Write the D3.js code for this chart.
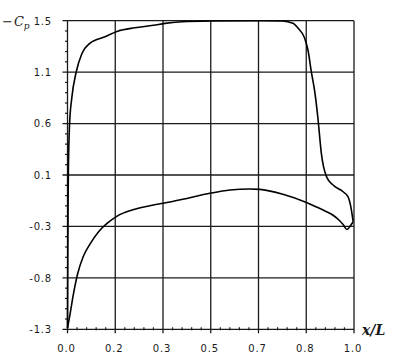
<!DOCTYPE html>
<html>
<head>
<meta charset="utf-8">
<script src="https://cdn.jsdelivr.net/npm/d3@7"></script>
<style>
body { margin: 0; background: #fff; }
svg { display: block; }
</style>
</head>
<body>
<svg id="chart" width="396" height="359"></svg>
<script>
// Tick values are evenly spaced; the labels are the rounded values printed on the chart
const xTickLabels = ["0.0", "0.2", "0.3", "0.5", "0.7", "0.8", "1.0"];
const yTickLabels = ["-1.3", "-0.8", "-0.3", "0.1", "0.6", "1.1", "1.5"];

// Upper surface (-Cp) : [x/L, -Cp]
const upperX = [0, 0.001, 0.002, 0.003, 0.007, 0.015, 0.030, 0.050, 0.078, 0.131, 0.175, 0.235, 0.300, 0.340, 0.400, 0.500, 0.670, 0.750, 0.787, 0.805, 0.828, 0.840, 0.851, 0.863, 0.874, 0.886, 0.904, 0.927, 0.962, 0.979, 0.991, 0.997];
const upperY = [-1.29, -0.70, -0.20, 0.12, 0.55, 0.80, 1.03, 1.20, 1.295, 1.355, 1.405, 1.436, 1.458, 1.476, 1.490, 1.497, 1.500, 1.497, 1.476, 1.431, 1.340, 1.225, 1.037, 0.856, 0.617, 0.297, 0.085, 0.009, -0.052, -0.097, -0.218, -0.324];

// Lower surface (-Cp)
const lowerX = [0, 0.009, 0.020, 0.035, 0.055, 0.080, 0.110, 0.140, 0.172, 0.235, 0.300, 0.334, 0.427, 0.497, 0.567, 0.636, 0.671, 0.752, 0.834, 0.869, 0.904, 0.927, 0.950, 0.962, 0.975, 0.985, 0.997];
const lowerY = [-1.29, -1.16, -0.99, -0.80, -0.64, -0.52, -0.41, -0.335, -0.275, -0.211, -0.172, -0.157, -0.106, -0.066, -0.036, -0.027, -0.030, -0.075, -0.150, -0.190, -0.233, -0.265, -0.315, -0.350, -0.395, -0.370, -0.324];

const svg = d3.select("#chart");
const L = 67.5, R = 354, T = 20.7, B = 329.3;

const x = d3.scaleLinear().domain([0, 1]).range([L, R]);
const y = d3.scaleLinear().domain([-1.3, 1.5]).range([B, T]);

const xTicks = d3.range(7).map(i => i / 6);
const yTicks = d3.range(7).map(i => -1.3 + i * 2.8 / 6);
const xMinor = d3.range(31).map(i => i / 30).filter((d, i) => i % 5 !== 0);
const yMinor = d3.range(31).map(i => -1.3 + i * 2.8 / 30).filter((d, i) => i % 5 !== 0);

const ink = "#1a1a1a";

// Grid lines
const g = svg.append("g");
g.selectAll("line.vx").data(xTicks).join("line")
  .attr("x1", d => x(d)).attr("x2", d => x(d))
  .attr("y1", T).attr("y2", B + 4)
  .attr("stroke", ink).attr("stroke-width", 1.3);
g.selectAll("line.hy").data(yTicks).join("line")
  .attr("x1", L - 5).attr("x2", R)
  .attr("y1", d => y(d)).attr("y2", d => y(d))
  .attr("stroke", ink).attr("stroke-width", 1.3);

// Minor ticks
g.selectAll("line.mx").data(xMinor).join("line")
  .attr("x1", d => x(d)).attr("x2", d => x(d))
  .attr("y1", B - 2).attr("y2", B + 1)
  .attr("stroke", ink).attr("stroke-width", 1.2);
g.selectAll("line.my").data(yMinor).join("line")
  .attr("x1", L - 2.5).attr("x2", L)
  .attr("y1", d => y(d)).attr("y2", d => y(d))
  .attr("stroke", ink).attr("stroke-width", 1.2);

// Tick labels
const font = "'DejaVu Sans', sans-serif";
svg.append("g").selectAll("text").data(xTicks).join("text")
  .attr("x", d => x(d) - 1).attr("y", 352)
  .attr("text-anchor", "middle")
  .attr("font-family", font).attr("font-size", 10).attr("letter-spacing", 0.8)
  .attr("fill", ink)
  .text((d, i) => xTickLabels[i]);
svg.append("g").selectAll("text").data(yTicks).join("text")
  .attr("x", 52).attr("y", d => y(d) + 3.8)
  .attr("text-anchor", "end")
  .attr("font-family", font).attr("font-size", 10).attr("letter-spacing", 0.8)
  .attr("fill", ink)
  .text((d, i) => yTickLabels[i]);

// Axis titles
const yt = svg.append("text").attr("x", 2).attr("y", 26)
  .attr("font-family", "'DejaVu Serif', serif").attr("font-size", 13).attr("fill", ink);
yt.append("tspan").text("\u2212");
yt.append("tspan").attr("font-style", "italic").attr("dx", 1).text("C");
yt.append("tspan").attr("font-style", "italic").attr("font-size", 9).attr("dy", 3).text("p");

svg.append("text").attr("x", 362).attr("y", 335)
  .attr("font-family", "'DejaVu Serif', serif").attr("font-size", 14)
  .attr("font-style", "italic").attr("font-weight", "bold").attr("fill", ink)
  .text("x/L");

// Curves
const line = d3.line().x(d => x(d[0])).y(d => y(d[1])).curve(d3.curveMonotoneX);
const upper = upperX.map((v, i) => [v, upperY[i]]);
const lower = lowerX.map((v, i) => [v, lowerY[i]]);
[upper, lower].forEach(data => {
  svg.append("path").datum(data).attr("d", line)
    .attr("fill", "none").attr("stroke", "#000").attr("stroke-width", 1.6);
});
</script>
</body>
</html>
